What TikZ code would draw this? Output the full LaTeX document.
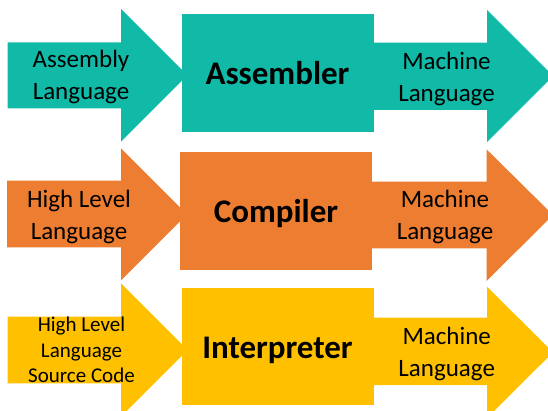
\documentclass[tikz,border=0pt]{standalone}
\usepackage{fontspec}
\setmainfont{Carlito}
\usepackage{tikz}
\definecolor{asmteal}{RGB}{16,186,166}
\definecolor{comporange}{RGB}{237,125,49}
\definecolor{interpgold}{RGB}{255,192,0}
\tikzset{
    %Define style for the tool boxes
    toolbox/.style={
           rectangle,
           minimum width=192pt,
           minimum height=117.5pt,
           inner sep=0pt,
           text height=23pt,
           text depth=0pt,
           font=\fontsize{33}{40}\selectfont\bfseries,
           text centered},
    %Define style for the arrow texts
    lbl/.style={
           align=center,
           inner sep=0pt,
           anchor=base,
           font=\fontsize{25}{32}\selectfont},
    smalllbl/.style={
           lbl,
           font=\fontsize{21}{25.3}\selectfont}
}
\begin{document}
\begin{tikzpicture}[x=1pt,y=-1pt]
\useasboundingbox (0,0) rectangle (548,411);
 %arrows
\fill[asmteal] (7.5,42.3) -- (121,42.3) -- (121,9) -- (187.4,75.3) -- (121,141.7) -- (121,108.3) -- (7.5,108.3) -- cycle;
\fill[asmteal] (370,42.7) -- (487,42.7) -- (487,10) -- (553,76) -- (487,142) -- (487,110) -- (370,110) -- cycle;
\fill[comporange] (7,180.7) -- (121,180.7) -- (121,148.3) -- (187,214.3) -- (121,280.3) -- (121,247.3) -- (7,247.3) -- cycle;
\fill[comporange] (370,181.7) -- (486.5,181.7) -- (486.5,149.3) -- (553,215) -- (486.5,281) -- (486.5,248.3) -- (370,248.3) -- cycle;
\fill[interpgold] (7.5,316.7) -- (121,316.7) -- (121,283.3) -- (187.7,350) -- (121,416.7) -- (121,383.3) -- (7.5,383.3) -- cycle;
\fill[interpgold] (370,317.7) -- (487,317.7) -- (487,286.7) -- (553,352.3) -- (487,418) -- (487,385) -- (370,385) -- cycle;

 %boxes
\node[toolbox, fill=asmteal] (asm) at (277.5,72.8) {Assembler};
\node[toolbox, fill=comporange] (comp) at (276,210.8) {Compiler};
\node[toolbox, fill=interpgold] (interp) at (277.5,346.7) {Interpreter};

 %texts
\node[lbl] (asmin) at (81,100) {Assembly\\Language};
\node[lbl] (asmout) at (446.5,101.7) {Machine\\Language};
\node[lbl] (compin) at (79,239.3) {High Level\\Language};
\node[lbl] (compout) at (445,240) {Machine\\Language};
\node[smalllbl] (interpin) at (81.5,382.3) {High Level\\Language\\Source Code};
\node[lbl] (interpout) at (446.7,376.7) {Machine\\Language};
\end{tikzpicture}
\end{document}
